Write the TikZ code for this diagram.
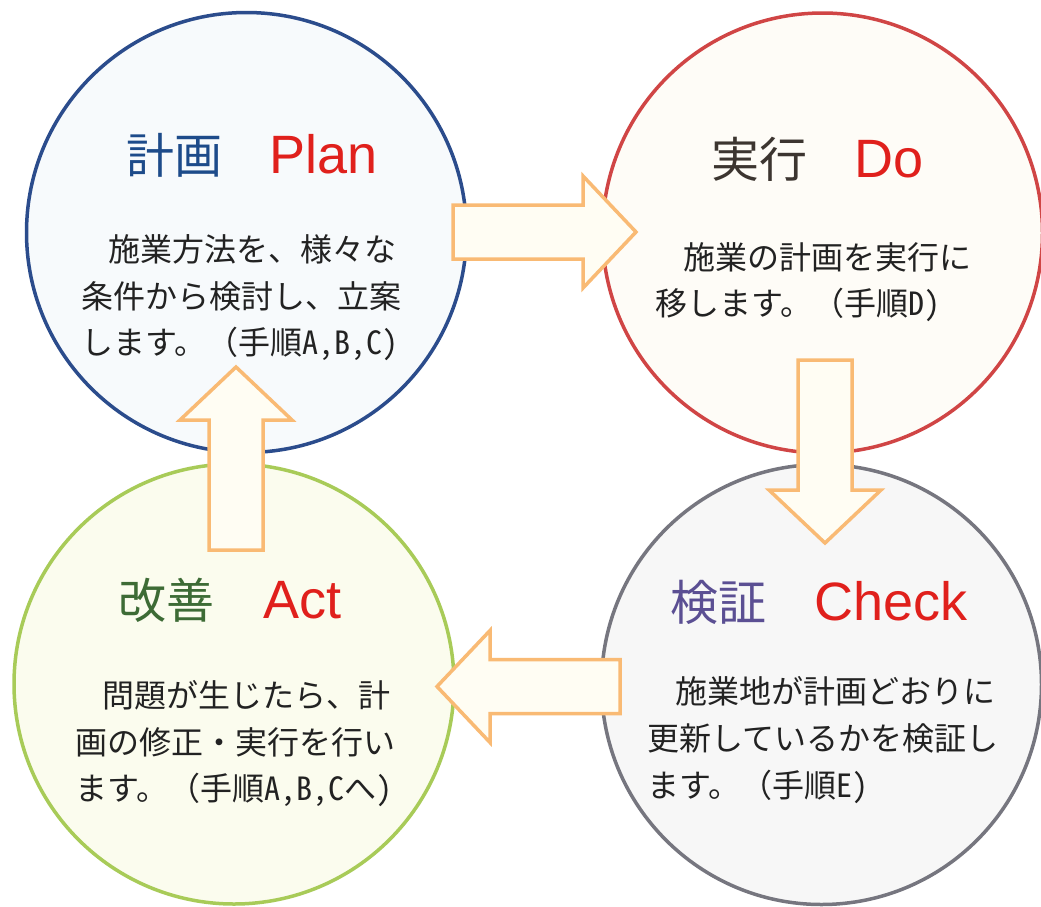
\documentclass[tikz,border=0pt]{standalone}
\usepackage{fontspec}
\newfontfamily\jp{Noto Sans CJK JP}
\newfontfamily\jph[RawFeature=+hwid]{Noto Sans CJK JP}
\newfontfamily\lat{Liberation Sans}
\usetikzlibrary{calc}
\definecolor{plandraw}{HTML}{2B4C8C}
\definecolor{planfill}{HTML}{F7FAFC}
\definecolor{dodraw}{HTML}{D04545}
\definecolor{dofill}{HTML}{FEFCF7}
\definecolor{actdraw}{HTML}{A8CB58}
\definecolor{actfill}{HTML}{FBFCEE}
\definecolor{chkdraw}{HTML}{76767F}
\definecolor{chkfill}{HTML}{F7F7F7}
\definecolor{arrowfill}{HTML}{FFFDF3}
\definecolor{arrowdraw}{HTML}{F9BA74}
\definecolor{bodytext}{HTML}{222222}
\definecolor{latred}{HTML}{E0201C}
\definecolor{plantitle}{HTML}{1D4B8A}
\definecolor{dotitle}{HTML}{3C3530}
\definecolor{acttitle}{HTML}{3D6B35}
\definecolor{chktitle}{HTML}{5B4F93}
\newcommand\fatarrow[2]{%
  \begin{scope}[shift={(#1)},rotate=#2]
    \draw[fatarrowstyle] (0,-27) -- (130,-27) -- (130,-56) -- (183,0) -- (130,56) -- (130,27) -- (0,27) -- cycle;
  \end{scope}}
\begin{document}
\begin{tikzpicture}[x=1pt,y=-1pt,
  cyc/.style={circle,minimum size=440pt,inner sep=0pt,line width=3.5pt},
  fatarrowstyle/.style={fill=arrowfill,draw=arrowdraw,line width=3.5pt,line join=miter},
  titlejp/.style={font=\jp\fontsize{48}{48}\selectfont,anchor=base west,inner sep=0pt},
  titlelat/.style={font=\lat\fontsize{54}{54}\selectfont,text=latred,anchor=base west,inner sep=0pt},
  bodyline/.style={font=\jp\fontsize{32}{32}\selectfont,text=bodytext,anchor=base west,inner sep=0pt}]
\useasboundingbox (0,0) rectangle (1041,906);
\fill[white] (0,0) rectangle (1041,906);
% circles
\node[cyc,draw=plandraw,fill=planfill] (plan) at (246.5,232.5) {};
\node[cyc,draw=dodraw,fill=dofill] (do) at (822.5,233) {};
\node[cyc,draw=actdraw,fill=actfill] (act) at (234,684) {};
\node[cyc,draw=chkdraw,fill=chkfill] (check) at (821.5,684.5) {};
% arrows
\coordinate (pd) at (453,232);
\coordinate (dc) at (825,360);
\coordinate (ca) at (620,686.5);
\coordinate (ap) at (236,550);
\fatarrow{pd}{0}
\fatarrow{dc}{-90}
\fatarrow{ca}{180}
\fatarrow{ap}{90}
% Plan
\node[titlejp,text=plantitle] (plank) at (126,173) {計画};
\node[titlelat] (planl) at (269,173) {Plan};
\node[bodyline] (plan1) at (108,261) {施業方法を、様々な};
\node[bodyline] (plan2) at (81,308) {条件から検討し、立案};
\node[bodyline] (plan3) at (81,354) {します。（手順{\jph A,B,C)}};
% Do
\node[titlejp,text=dotitle] (dok) at (711,177) {実行};
\node[titlelat] (dol) at (854,177) {Do};
\node[bodyline] (do1) at (683,269) {施業の計画を実行に};
\node[bodyline] (do2) at (655,315) {移します。（手順{\jph D)}};
% Act
\node[titlejp,text=acttitle] (actk) at (118,618) {改善};
\node[titlelat] (actl) at (263,618) {Act};
\node[bodyline] (act1) at (102,707) {問題が生じたら、計};
\node[bodyline] (act2) at (75,754) {画の修正・実行を行い};
\node[bodyline] (act3) at (75,800) {ます。（手順{\jph A,B,C}へ{\jph )}};
% Check
\node[titlejp,text=chktitle] (chkk) at (670,620) {検証};
\node[titlelat] (chkl) at (814,620) {Check};
\node[bodyline] (chk1) at (675,703) {施業地が計画どおりに};
\node[bodyline] (chk2) at (647,750) {更新しているかを検証し};
\node[bodyline] (chk3) at (647,797) {ます。（手順{\jph E)}};
\end{tikzpicture}
\end{document}
